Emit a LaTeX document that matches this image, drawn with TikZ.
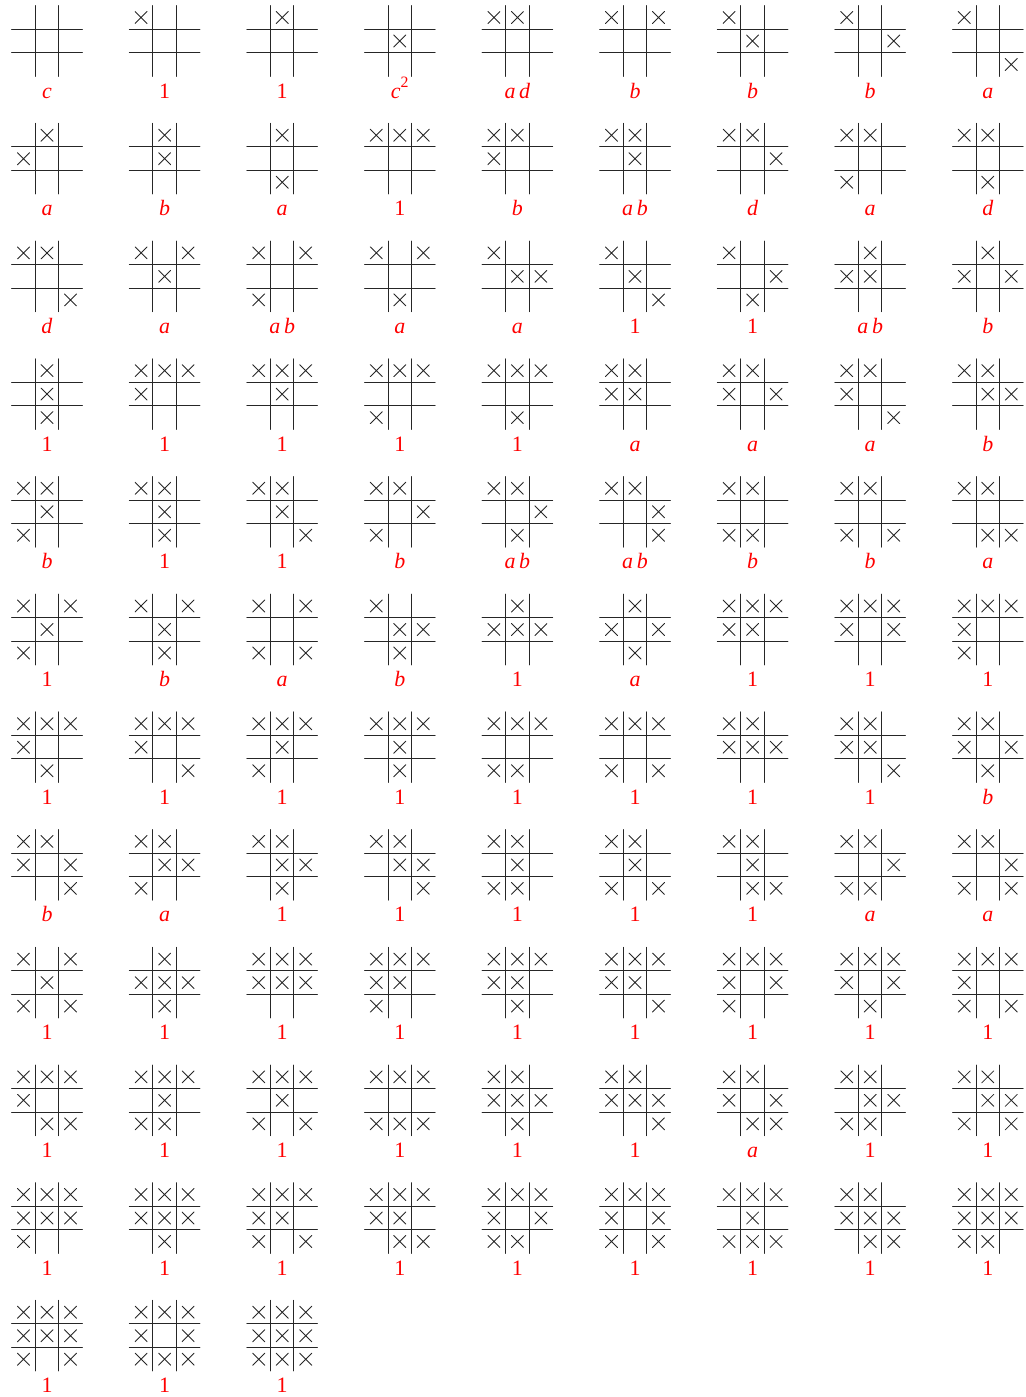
\documentclass[tikz,border=0pt]{standalone}
\usepackage{fontspec}
\setmainfont{Liberation Serif}

% one board: column, row, cells with a cross (1..9, row by row), label
\newcommand\board[4]{%
  \begin{scope}[shift={(47+117.6*#1,41+117.7*#2)}]
    \draw[gridline] (-11.75,-35.25)--(-11.75,35.25) (11.75,-35.25)--(11.75,35.25)
      (-35.25,-11.75)--(35.25,-11.75) (-35.25,11.75)--(35.25,11.75);
    \ifx\relax#3\relax\else
    \foreach \k in {#3}{
      \pgfmathtruncatemacro\cc{mod(\k-1,3)}
      \pgfmathtruncatemacro\rr{div(\k-1,3)}
      \draw[xmark] (\cc*23.5-29.5,\rr*23.5-29.5)--++(12,12) ++(0,-12)--++(-12,12);
    }
    \fi
    \node[result] (r#1-#2) at (0,57) {#4};
  \end{scope}}

\begin{document}
\begin{tikzpicture}[x=0.02cm, y=-0.02cm, line cap=round,
    gridline/.style={line width=0.6pt, black!85},
    xmark/.style={line width=0.5pt, black!85},
    result/.style={red, anchor=base, inner sep=0pt, font=\fontsize{12.5}{14}\selectfont}]
\useasboundingbox (0,0) rectangle (1026,1397);

\board{0}{0}{}{\textit{c}}
\board{1}{0}{1}{1}
\board{2}{0}{2}{1}
\board{3}{0}{5}{\textit{c}\raisebox{0.5em}{\fontsize{9}{10}\selectfont 2}}
\board{4}{0}{1,2}{\textit{a\,d}}
\board{5}{0}{1,3}{\textit{b}}
\board{6}{0}{1,5}{\textit{b}}
\board{7}{0}{1,6}{\textit{b}}
\board{8}{0}{1,9}{\textit{a}}

\board{0}{1}{2,4}{\textit{a}}
\board{1}{1}{2,5}{\textit{b}}
\board{2}{1}{2,8}{\textit{a}}
\board{3}{1}{1,2,3}{1}
\board{4}{1}{1,2,4}{\textit{b}}
\board{5}{1}{1,2,5}{\textit{a\,b}}
\board{6}{1}{1,2,6}{\textit{d}}
\board{7}{1}{1,2,7}{\textit{a}}
\board{8}{1}{1,2,8}{\textit{d}}

\board{0}{2}{1,2,9}{\textit{d}}
\board{1}{2}{1,3,5}{\textit{a}}
\board{2}{2}{1,3,7}{\textit{a\,b}}
\board{3}{2}{1,3,8}{\textit{a}}
\board{4}{2}{1,5,6}{\textit{a}}
\board{5}{2}{1,5,9}{1}
\board{6}{2}{1,6,8}{1}
\board{7}{2}{2,4,5}{\textit{a\,b}}
\board{8}{2}{2,4,6}{\textit{b}}

\board{0}{3}{2,5,8}{1}
\board{1}{3}{1,2,3,4}{1}
\board{2}{3}{1,2,3,5}{1}
\board{3}{3}{1,2,3,7}{1}
\board{4}{3}{1,2,3,8}{1}
\board{5}{3}{1,2,4,5}{\textit{a}}
\board{6}{3}{1,2,4,6}{\textit{a}}
\board{7}{3}{1,2,4,9}{\textit{a}}
\board{8}{3}{1,2,5,6}{\textit{b}}

\board{0}{4}{1,2,5,7}{\textit{b}}
\board{1}{4}{1,2,5,8}{1}
\board{2}{4}{1,2,5,9}{1}
\board{3}{4}{1,2,6,7}{\textit{b}}
\board{4}{4}{1,2,6,8}{\textit{a\,b}}
\board{5}{4}{1,2,6,9}{\textit{a\,b}}
\board{6}{4}{1,2,7,8}{\textit{b}}
\board{7}{4}{1,2,7,9}{\textit{b}}
\board{8}{4}{1,2,8,9}{\textit{a}}

\board{0}{5}{1,3,5,7}{1}
\board{1}{5}{1,3,5,8}{\textit{b}}
\board{2}{5}{1,3,7,9}{\textit{a}}
\board{3}{5}{1,5,6,8}{\textit{b}}
\board{4}{5}{2,4,5,6}{1}
\board{5}{5}{2,4,6,8}{\textit{a}}
\board{6}{5}{1,2,3,4,5}{1}
\board{7}{5}{1,2,3,4,6}{1}
\board{8}{5}{1,2,3,4,7}{1}

\board{0}{6}{1,2,3,4,8}{1}
\board{1}{6}{1,2,3,4,9}{1}
\board{2}{6}{1,2,3,5,7}{1}
\board{3}{6}{1,2,3,5,8}{1}
\board{4}{6}{1,2,3,7,8}{1}
\board{5}{6}{1,2,3,7,9}{1}
\board{6}{6}{1,2,4,5,6}{1}
\board{7}{6}{1,2,4,5,9}{1}
\board{8}{6}{1,2,4,6,8}{\textit{b}}

\board{0}{7}{1,2,4,6,9}{\textit{b}}
\board{1}{7}{1,2,5,6,7}{\textit{a}}
\board{2}{7}{1,2,5,6,8}{1}
\board{3}{7}{1,2,5,6,9}{1}
\board{4}{7}{1,2,5,7,8}{1}
\board{5}{7}{1,2,5,7,9}{1}
\board{6}{7}{1,2,5,8,9}{1}
\board{7}{7}{1,2,6,7,8}{\textit{a}}
\board{8}{7}{1,2,6,7,9}{\textit{a}}

\board{0}{8}{1,3,5,7,9}{1}
\board{1}{8}{2,4,5,6,8}{1}
\board{2}{8}{1,2,3,4,5,6}{1}
\board{3}{8}{1,2,3,4,5,7}{1}
\board{4}{8}{1,2,3,4,5,8}{1}
\board{5}{8}{1,2,3,4,5,9}{1}
\board{6}{8}{1,2,3,4,6,7}{1}
\board{7}{8}{1,2,3,4,6,8}{1}
\board{8}{8}{1,2,3,4,7,9}{1}

\board{0}{9}{1,2,3,4,8,9}{1}
\board{1}{9}{1,2,3,5,7,8}{1}
\board{2}{9}{1,2,3,5,7,9}{1}
\board{3}{9}{1,2,3,7,8,9}{1}
\board{4}{9}{1,2,4,5,6,8}{1}
\board{5}{9}{1,2,4,5,6,9}{1}
\board{6}{9}{1,2,4,6,8,9}{\textit{a}}
\board{7}{9}{1,2,5,6,7,8}{1}
\board{8}{9}{1,2,5,6,7,9}{1}

\board{0}{10}{1,2,3,4,5,6,7}{1}
\board{1}{10}{1,2,3,4,5,6,8}{1}
\board{2}{10}{1,2,3,4,5,7,9}{1}
\board{3}{10}{1,2,3,4,5,8,9}{1}
\board{4}{10}{1,2,3,4,6,7,8}{1}
\board{5}{10}{1,2,3,4,6,7,9}{1}
\board{6}{10}{1,2,3,5,7,8,9}{1}
\board{7}{10}{1,2,4,5,6,8,9}{1}
\board{8}{10}{1,2,3,4,5,6,7,8}{1}

\board{0}{11}{1,2,3,4,5,6,7,9}{1}
\board{1}{11}{1,2,3,4,6,7,8,9}{1}
\board{2}{11}{1,2,3,4,5,6,7,8,9}{1}

\end{tikzpicture}
\end{document}
